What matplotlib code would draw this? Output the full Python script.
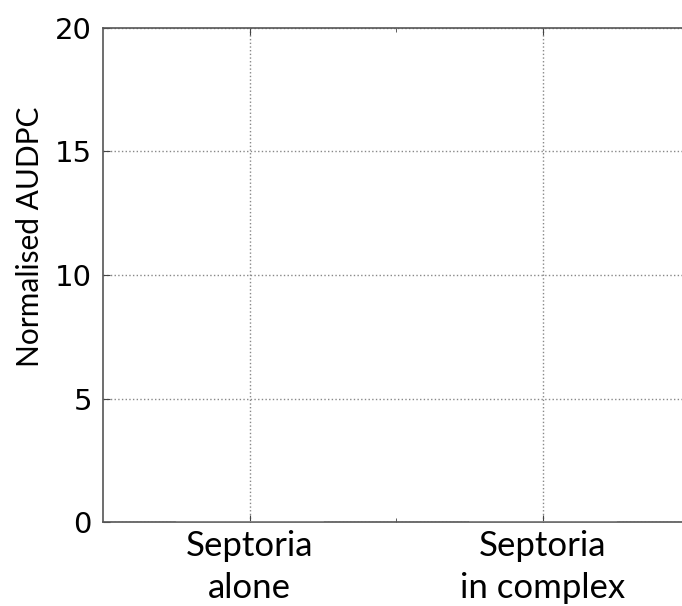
import matplotlib
matplotlib.use("Agg")
import matplotlib.pyplot as plt
from matplotlib.ticker import FixedLocator

# categories and values (bars are nearly zero in the source figure)
categories = ["Septoria\nalone", "Septoria\nin complex"]
positions = [1, 2]
audpc = [0.05, 0.05]

fig = plt.figure(figsize=(6.82, 6.06), dpi=100)
ax = fig.add_axes([103 / 682, 84 / 606, 586 / 682, 494 / 606])

ax.bar(positions, audpc, width=0.5, color="#888888", edgecolor="#888888", linewidth=0.5, zorder=3)

ax.set_xlim(0.5, 2.5)
ax.set_ylim(0, 20)
ax.set_yticks([0, 5, 10, 15, 20])
ax.set_xticks(positions)
ax.set_xticklabels(categories, fontsize=25, family="Lato", linespacing=1.38)
ax.xaxis.set_minor_locator(FixedLocator([1.5]))
ax.tick_params(axis="y", labelsize=21, direction="in", right=True, length=5, color="#444444", pad=8)
ax.tick_params(axis="x", which="major", direction="in", top=True, length=5, color="#444444", pad=6)
ax.tick_params(axis="x", which="minor", direction="in", top=True, length=3, color="#444444")
ax.set_ylabel("Normalised AUDPC", fontsize=21.5, family="Lato")
ax.yaxis.set_label_coords(-0.10, 0.577)

ax.grid(True, which="major", linestyle=":", color="#888888", linewidth=1)
for s in ax.spines.values():
    s.set_color("#555555")
    s.set_linewidth(1.2)

fig.savefig("out.png", dpi=100)
